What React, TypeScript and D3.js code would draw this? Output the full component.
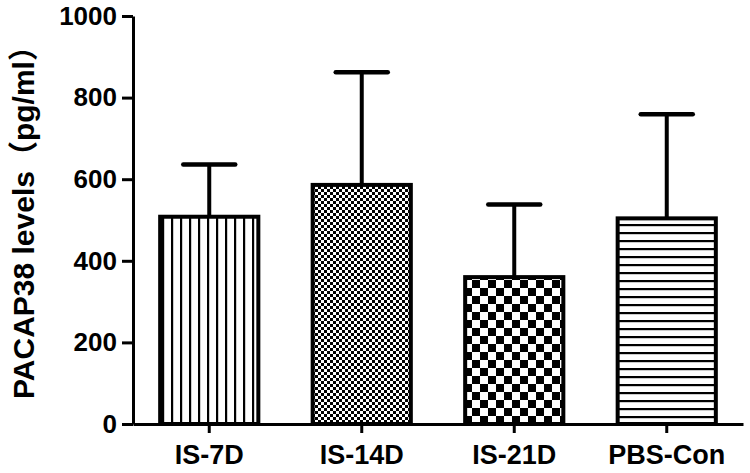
import React, { useEffect, useRef } from 'react';
import * as d3 from 'd3';

const categories = ['IS-7D', 'IS-14D', 'IS-21D', 'PBS-Con'];
const means = [508, 586, 360, 504];
const errTops = [636, 862, 538, 759];
const yTicks = [0, 200, 400, 600, 800, 1000];
const patternIds = ['pat-vert', 'pat-fine', 'pat-check', 'pat-horiz'];

export default function App() {
    const ref = useRef<SVGSVGElement>(null);

    useEffect(() => {
        const svg = d3.select(ref.current);
        svg.selectAll('*').remove();

        const font = '"Liberation Sans", Arial, "Noto Sans CJK SC", sans-serif';

        const x = d3.scaleBand()
            .domain(categories)
            .range([133, 743])
            .paddingInner(0.33)
            .paddingOuter(0.165);

        const y = d3.scaleLinear()
            .domain([0, 1000])
            .range([424, 16]);

        // fill patterns
        const defs = svg.append('defs');

        const pv = defs.append('pattern').attr('id', 'pat-vert')
            .attr('patternUnits', 'userSpaceOnUse').attr('width', 9).attr('height', 9);
        pv.append('rect').attr('width', 9).attr('height', 9).attr('fill', '#fff');
        pv.append('rect').attr('x', 0).attr('width', 2.2).attr('height', 9).attr('fill', '#000');

        const pf = defs.append('pattern').attr('id', 'pat-fine')
            .attr('patternUnits', 'userSpaceOnUse').attr('width', 6).attr('height', 6);
        pf.append('rect').attr('width', 6).attr('height', 6).attr('fill', '#fff');
        pf.append('rect').attr('x', 0).attr('y', 0).attr('width', 3).attr('height', 3).attr('fill', '#000');
        pf.append('rect').attr('x', 3).attr('y', 3).attr('width', 3).attr('height', 3).attr('fill', '#000');

        const pc = defs.append('pattern').attr('id', 'pat-check')
            .attr('patternUnits', 'userSpaceOnUse').attr('width', 16).attr('height', 16);
        pc.append('rect').attr('width', 16).attr('height', 16).attr('fill', '#fff');
        pc.append('rect').attr('x', 0).attr('y', 0).attr('width', 8).attr('height', 8).attr('fill', '#000');
        pc.append('rect').attr('x', 8).attr('y', 8).attr('width', 8).attr('height', 8).attr('fill', '#000');

        const ph = defs.append('pattern').attr('id', 'pat-horiz')
            .attr('patternUnits', 'userSpaceOnUse').attr('width', 8).attr('height', 8);
        ph.append('rect').attr('width', 8).attr('height', 8).attr('fill', '#fff');
        ph.append('rect').attr('y', 0).attr('width', 8).attr('height', 2.2).attr('fill', '#000');

        // error bars
        svg.selectAll('line.err')
            .data(categories)
            .enter()
            .append('line')
                .attr('class', 'err')
                .attr('x1', (d) => x(d)! + x.bandwidth() / 2)
                .attr('x2', (d) => x(d)! + x.bandwidth() / 2)
                .attr('y1', (d, i) => y(means[i]))
                .attr('y2', (d, i) => y(errTops[i]))
                .attr('stroke', '#000')
                .attr('stroke-width', 4);

        svg.selectAll('line.cap')
            .data(categories)
            .enter()
            .append('line')
                .attr('class', 'cap')
                .attr('x1', (d) => x(d)! + x.bandwidth() / 2 - 26)
                .attr('x2', (d) => x(d)! + x.bandwidth() / 2 + 26)
                .attr('y1', (d, i) => y(errTops[i]))
                .attr('y2', (d, i) => y(errTops[i]))
                .attr('stroke', '#000')
                .attr('stroke-width', 4.5)
                .attr('stroke-linecap', 'round');

        // bars
        svg.selectAll('rect.bar')
            .data(categories)
            .enter()
            .append('rect')
                .attr('class', 'bar')
                .attr('x', (d) => x(d)! + 2)
                .attr('y', (d, i) => y(means[i]))
                .attr('width', x.bandwidth() - 4)
                .attr('height', (d, i) => y(0) - y(means[i]))
                .attr('fill', (d, i) => 'url(#' + patternIds[i] + ')')
                .attr('stroke', '#000')
                .attr('stroke-width', 4);

        // y axis
        const yAxis = svg.append('g')
            .attr('transform', 'translate(133,0)')
            .call(d3.axisLeft(y).tickValues(yTicks).tickFormat(d3.format('d'))
                .tickSize(11).tickPadding(5).tickSizeOuter(0));
        yAxis.select('.domain').attr('stroke-width', 3);
        yAxis.selectAll('.tick line').attr('stroke-width', 3);
        yAxis.selectAll('text')
            .attr('font-family', font)
            .attr('font-weight', 'bold')
            .attr('font-size', 26)
            .attr('fill', '#000');

        // x axis
        const xAxis = svg.append('g')
            .attr('transform', 'translate(0,424)')
            .call(d3.axisBottom(x).tickSize(9).tickPadding(12).tickSizeOuter(0));
        xAxis.select('.domain').attr('stroke-width', 3);
        xAxis.selectAll('.tick line').attr('stroke-width', 3);
        xAxis.selectAll('text')
            .attr('font-family', font)
            .attr('font-weight', 'bold')
            .attr('font-size', 27)
            .attr('fill', '#000');

        // y label
        svg.append('text')
            .attr('transform', 'translate(34,215) rotate(-90)')
            .attr('text-anchor', 'middle')
            .attr('font-family', font)
            .attr('font-weight', 'bold')
            .attr('font-size', 30)
            .text('PACAP38 levels（pg/ml）');
    }, []);

    return (
        <svg ref={ref} width={750} height={473}
            style={{ position: 'absolute', left: 0, top: 0, background: '#fff' }} />
    );
}
